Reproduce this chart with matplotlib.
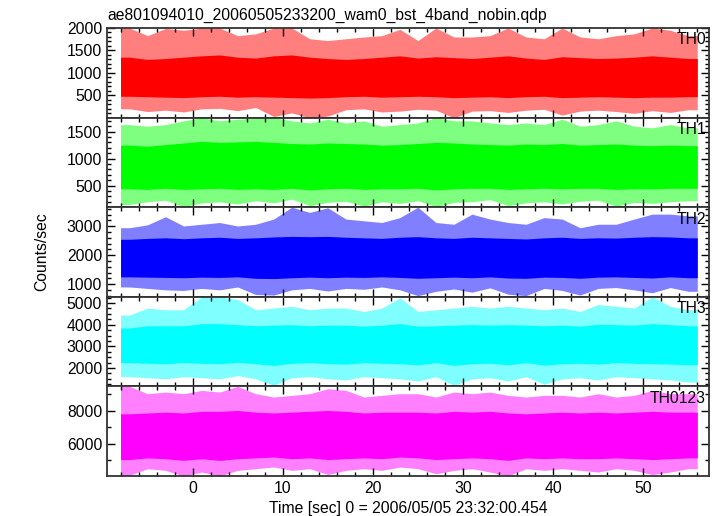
import matplotlib.pyplot as plt
import numpy as np
from matplotlib.ticker import MultipleLocator

plt.rcParams['font.family'] = ['Liberation Sans', 'DejaVu Sans']

# 2-second bins from -8 s to 56 s (light curve envelope)
bin_edges = np.arange(-8, 57, 2)
bands = ['TH0', 'TH1', 'TH2', 'TH3', 'TH0123']
colors = ['#ff0000', '#00ff00', '#0000ff', '#00ffff', '#ff00ff']

th0_max = [2000, 1830, 1990, 1950, 2000, 2000, 1830, 1870, 2000, 2000, 1760, 1720, 1760, 1800, 1830, 1970,
           1720, 2000, 1800, 1800, 1830, 2000, 1800, 1760, 2000, 1800, 1760, 1830, 1870, 2000, 1950, 1830]
th0_min = [200, 140, 170, 130, 200, 210, 160, 230, 30, 110, 0, 40, 180, 200, 130, 150,
           190, 170, 0, 150, 160, 120, 170, 190, 60, 150, 170, 140, 100, 160, 120, 180]
th0_hi = [1350, 1300, 1320, 1350, 1380, 1400, 1350, 1330, 1380, 1400, 1350, 1320, 1300, 1320, 1350, 1380,
          1330, 1360, 1340, 1320, 1350, 1380, 1330, 1300, 1360, 1340, 1320, 1330, 1350, 1380, 1350, 1320]
th0_lo = [480, 470, 460, 450, 470, 480, 460, 470, 460, 450, 440, 450, 470, 480, 460, 470,
          480, 470, 450, 460, 470, 450, 470, 480, 450, 460, 470, 460, 450, 460, 460, 470]

th1_max = [1630, 1600, 1630, 1700, 1760, 1700, 1730, 1750, 1760, 1700, 1660, 1730, 1660, 1700, 1600, 1630,
           1660, 1760, 1700, 1700, 1660, 1630, 1660, 1630, 1730, 1600, 1630, 1700, 1600, 1570, 1630, 1570]
th1_min = [150, 200, 230, 110, 180, 200, 160, 220, 180, 250, 130, 190, 210, 120, 200, 170,
           220, 110, 190, 200, 240, 130, 180, 200, 160, 210, 230, 120, 190, 170, 200, 220]
th1_hi = [1250, 1230, 1260, 1290, 1320, 1300, 1310, 1320, 1300, 1280, 1270, 1290, 1280, 1270, 1250, 1260,
          1280, 1300, 1290, 1270, 1260, 1250, 1270, 1260, 1280, 1250, 1260, 1270, 1250, 1240, 1250, 1240]
th1_lo = [440, 430, 450, 430, 440, 450, 430, 440, 430, 450, 420, 440, 450, 430, 440, 440,
          450, 420, 440, 450, 450, 430, 440, 450, 440, 450, 450, 430, 440, 440, 450, 450]

th2_max = [2950, 3050, 3330, 3010, 3070, 3130, 3010, 3070, 3250, 3660, 3480, 3640, 3250, 3190, 3130, 3300,
           3660, 3130, 3070, 3420, 3250, 3130, 3070, 3300, 3250, 2950, 3070, 3070, 3250, 3420, 3420, 3360]
th2_min = [900, 850, 800, 780, 850, 800, 900, 640, 620, 800, 850, 760, 850, 820, 900, 800,
           600, 750, 830, 720, 870, 650, 600, 850, 780, 620, 850, 880, 800, 700, 880, 750]
th2_hi = [2550, 2580, 2600, 2570, 2600, 2620, 2580, 2600, 2630, 2650, 2640, 2650, 2620, 2600, 2580, 2620,
          2640, 2600, 2580, 2620, 2600, 2580, 2560, 2600, 2620, 2580, 2600, 2590, 2620, 2640, 2630, 2600]
th2_lo = [1250, 1240, 1230, 1220, 1240, 1230, 1250, 1200, 1190, 1220, 1240, 1220, 1240, 1230, 1250, 1230,
          1200, 1220, 1240, 1220, 1250, 1210, 1200, 1240, 1230, 1200, 1240, 1250, 1230, 1210, 1250, 1220]

th3_max = [4450, 4770, 4690, 4690, 5290, 5290, 5160, 4690, 4770, 4850, 4690, 4770, 4770, 4610, 4770, 5240,
           4610, 4690, 4770, 4850, 4770, 4850, 4770, 4690, 4770, 4610, 4930, 4850, 4770, 5290, 4850, 4690]
th3_min = [1600, 1550, 1500, 1600, 1550, 1500, 1650, 1500, 1200, 1550, 1600, 1500, 1450, 1600, 1550, 1500,
           1400, 1600, 1200, 1500, 1550, 1400, 1600, 1250, 1500, 1550, 1450, 1600, 1550, 1500, 1450, 1350]
th3_hi = [3850, 3950, 3950, 3950, 4050, 4050, 4000, 3950, 3980, 4000, 3950, 3980, 3980, 3930, 3980, 4050,
          3930, 3950, 3980, 4000, 3980, 4000, 3980, 3950, 3980, 3930, 4020, 4000, 3980, 4050, 4000, 3950]
th3_lo = [2250, 2220, 2200, 2250, 2220, 2200, 2260, 2200, 2120, 2220, 2250, 2200, 2180, 2250, 2220, 2200,
          2150, 2250, 2120, 2200, 2220, 2150, 2250, 2130, 2200, 2220, 2180, 2250, 2220, 2200, 2180, 2150]

th0123_max = [9450, 9010, 9110, 9010, 9210, 9110, 9450, 9010, 8810, 8910, 9010, 9310, 9210, 8810, 8910, 9010,
              9010, 8810, 9110, 9010, 9110, 8910, 8810, 8910, 8910, 8810, 9010, 8810, 8910, 9210, 9010, 9010]
th0123_min = [4100, 4500, 4400, 4060, 4300, 4060, 4400, 4500, 4600, 4400, 4500, 4150, 4400, 4500, 4400, 4600,
              4500, 4200, 4400, 4500, 4300, 4060, 4500, 4400, 4500, 4400, 4300, 4500, 4400, 4150, 4300, 4500]
th0123_hi = [7800, 7850, 7900, 7850, 7950, 7950, 8000, 7900, 7850, 7900, 7950, 8000, 7950, 7850, 7900, 7900,
             7900, 7850, 7950, 7900, 7950, 7850, 7800, 7850, 7900, 7850, 7900, 7850, 7900, 7950, 7900, 7900]
th0123_lo = [5050, 5150, 5100, 5000, 5100, 5000, 5100, 5150, 5200, 5100, 5150, 5050, 5100, 5150, 5100, 5200,
             5150, 5050, 5100, 5150, 5100, 5000, 5150, 5100, 5150, 5100, 5100, 5150, 5100, 5050, 5100, 5150]

env_max = [th0_max, th1_max, th2_max, th3_max, th0123_max]
env_min = [th0_min, th1_min, th2_min, th3_min, th0123_min]
core_hi = [th0_hi, th1_hi, th2_hi, th3_hi, th0123_hi]
core_lo = [th0_lo, th1_lo, th2_lo, th3_lo, th0123_lo]

y_limits = [(5, 2000), (100, 1760), (560, 3660), (1150, 5290), (4060, 9450)]
y_major = [500, 500, 1000, 1000, 2000]
y_minor = [100, 100, 200, 250, 1000]

FS = 11.3
fig = plt.figure(figsize=(7.17, 5.16), dpi=100)
LEFT, RIGHT = 107 / 717, 709 / 717
TOP, BOTTOM = 1 - 28 / 516, 1 - 476 / 516
panel_h = (TOP - BOTTOM) / 5

centers = (bin_edges[:-1] + bin_edges[1:]) / 2
x_draw = np.r_[bin_edges[0], centers, bin_edges[-1]]


def pad(v):
    v = np.asarray(v, dtype=float)
    return np.r_[v[0], v, v[-1]]


axes = []
for i, band in enumerate(bands):
    ax = fig.add_axes([LEFT, TOP - (i + 1) * panel_h, RIGHT - LEFT, panel_h])
    axes.append(ax)

    # faint outer envelope (spikes) and the solid dense core
    ax.fill_between(x_draw, pad(env_min[i]), pad(env_max[i]), color=colors[i], alpha=0.5,
                    linewidth=0)
    ax.fill_between(x_draw, pad(core_lo[i]), pad(core_hi[i]), color=colors[i], linewidth=0)

    ax.set_xlim(-9.5, 57.3)
    ax.set_ylim(*y_limits[i])
    ax.xaxis.set_major_locator(MultipleLocator(10))
    ax.xaxis.set_minor_locator(MultipleLocator(2))
    ax.yaxis.set_major_locator(MultipleLocator(y_major[i]))
    ax.yaxis.set_minor_locator(MultipleLocator(y_minor[i]))
    ax.tick_params(which='both', direction='in', top=True, right=True, labelsize=FS, colors='black')
    ax.tick_params(which='major', length=6, width=1)
    ax.tick_params(which='minor', length=3, width=1)
    for spine in ax.spines.values():
        spine.set_linewidth(1.3)
        spine.set_color('#333333')
    if i < 4:
        ax.tick_params(labelbottom=False)
    ax.text(0.995, 0.95, band, transform=ax.transAxes, ha='right', va='top', fontsize=FS)

for ax in axes:
    lo, hi = ax.get_ylim()
    ax.set_yticks([t for t in ax.get_yticks() if lo <= t <= hi])

axes[-1].set_xlabel('Time [sec] 0 = 2006/05/05 23:32:00.454', fontsize=FS, labelpad=4)
fig.text(0.058, (TOP + BOTTOM) / 2, 'Counts/sec', rotation=90, ha='center', va='center', fontsize=FS)
fig.text(LEFT, 1 - 15 / 516, 'ae801094010_20060505233200_wam0_bst_4band_nobin.qdp', ha='left', va='center',
         fontsize=FS)

fig.savefig('out.png', dpi=100)
